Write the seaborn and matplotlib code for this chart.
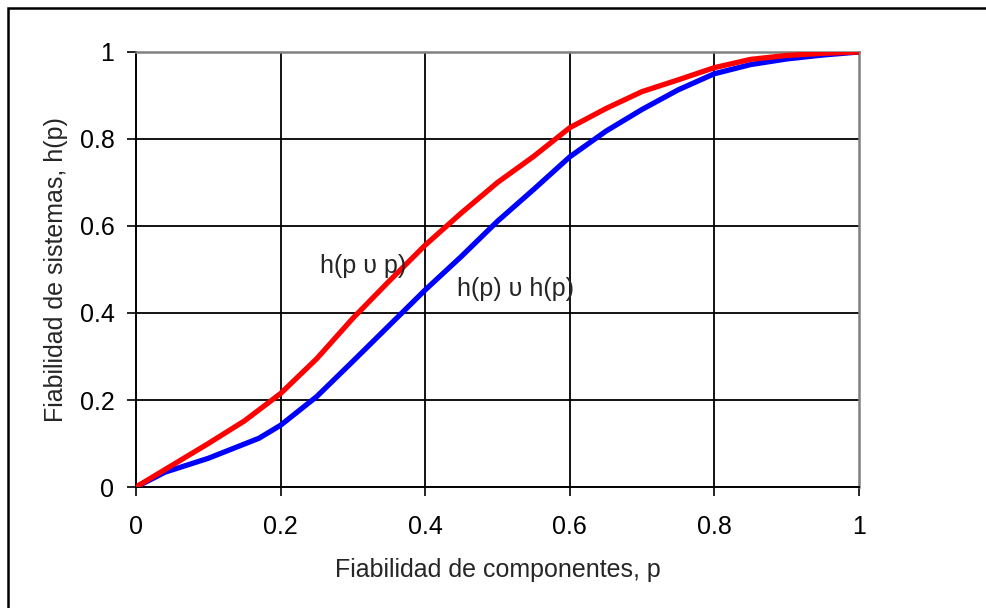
import numpy as np
import pandas as pd
import seaborn as sns
import matplotlib.pyplot as plt
from matplotlib.patches import Rectangle

# Component reliability p and system reliability
p_red = [0, 0.05, 0.1, 0.15, 0.2, 0.25, 0.3, 0.35, 0.4, 0.45, 0.5,
         0.55, 0.6, 0.65, 0.7, 0.75, 0.8, 0.85, 0.9, 0.95, 1.0]
h_red = [0, 0.05, 0.10, 0.152, 0.215, 0.295, 0.388, 0.473, 0.556, 0.63, 0.70,
         0.76, 0.826, 0.87, 0.909, 0.936, 0.964, 0.983, 0.992, 0.997, 1.0]

p_blue = [0, 0.04, 0.1, 0.17, 0.2, 0.25, 0.3, 0.35, 0.4, 0.45, 0.5,
          0.55, 0.6, 0.65, 0.7, 0.75, 0.8, 0.85, 0.9, 0.95, 1.0]
h_blue = [0, 0.034, 0.066, 0.112, 0.142, 0.208, 0.289, 0.371, 0.453, 0.53, 0.611,
          0.684, 0.759, 0.818, 0.868, 0.913, 0.95, 0.971, 0.984, 0.993, 1.0]

label_red = "h(p \u03c5 p)"
label_blue = "h(p) \u03c5 h(p)"
ticks = [0, 0.2, 0.4, 0.6, 0.8, 1]
tick_labels = ["0", "0.2", "0.4", "0.6", "0.8", "1"]

df_red = pd.DataFrame({"p": p_red, "h": h_red})
df_blue = pd.DataFrame({"p": p_blue, "h": h_blue})

sns.set_style("white")
plt.rcParams['font.family'] = ['Liberation Sans', 'DejaVu Sans']

fig = plt.figure(figsize=(9.87, 6.08), dpi=100)
ax = fig.add_axes([0.1378, 0.199, 0.7325, 0.7155])

sns.lineplot(data=df_blue, x="p", y="h", color="#0000ff", linewidth=3.8, ax=ax,
             sort=False, zorder=3)
sns.lineplot(data=df_red, x="p", y="h", color="#ff0000", linewidth=3.8, ax=ax,
             sort=False, zorder=4)

ax.set_xlim(0, 1)
ax.set_ylim(0, 1)
ax.set_xticks(ticks)
ax.set_xticklabels(tick_labels)
ax.set_yticks(ticks)
ax.set_yticklabels(tick_labels)

# black grid lines, grey top/right frame
for v in ticks[1:-1]:
    ax.axvline(v, color="black", linewidth=1.3, zorder=1)
    ax.axhline(v, color="black", linewidth=1.3, zorder=1)
for side in ["top", "right"]:
    ax.spines[side].set_color("#808080")
    ax.spines[side].set_linewidth(1.8)
for side in ["left", "bottom"]:
    ax.spines[side].set_color("black")
    ax.spines[side].set_linewidth(1.4)

ax.tick_params(axis="both", direction="out", length=6.5, width=1.2, color="black",
               labelsize=18, labelcolor="black")
ax.tick_params(axis="x", pad=14)
ax.tick_params(axis="y", pad=9)
ax.tick_params(left=True, bottom=True)

ax.set_xlabel("Fiabilidad de componentes, p", fontsize=18, labelpad=13)
ax.set_ylabel("Fiabilidad de sistemas, h(p)", fontsize=18, labelpad=8)

ax.text(0.255, 0.508, label_red, fontsize=18, ha="left", va="center", zorder=5)
ax.text(0.4435, 0.455, label_blue, fontsize=18, ha="left", va="center", zorder=5)

# outer frame around the chart (only top and left edges fall inside the image)
fig.patches.append(Rectangle((8 / 987, -0.1), 1.2, 0.1 + 1 - 8 / 608,
                             transform=fig.transFigure, fill=False,
                             edgecolor="black", linewidth=1.8))

fig.savefig("out.png", dpi=100)
